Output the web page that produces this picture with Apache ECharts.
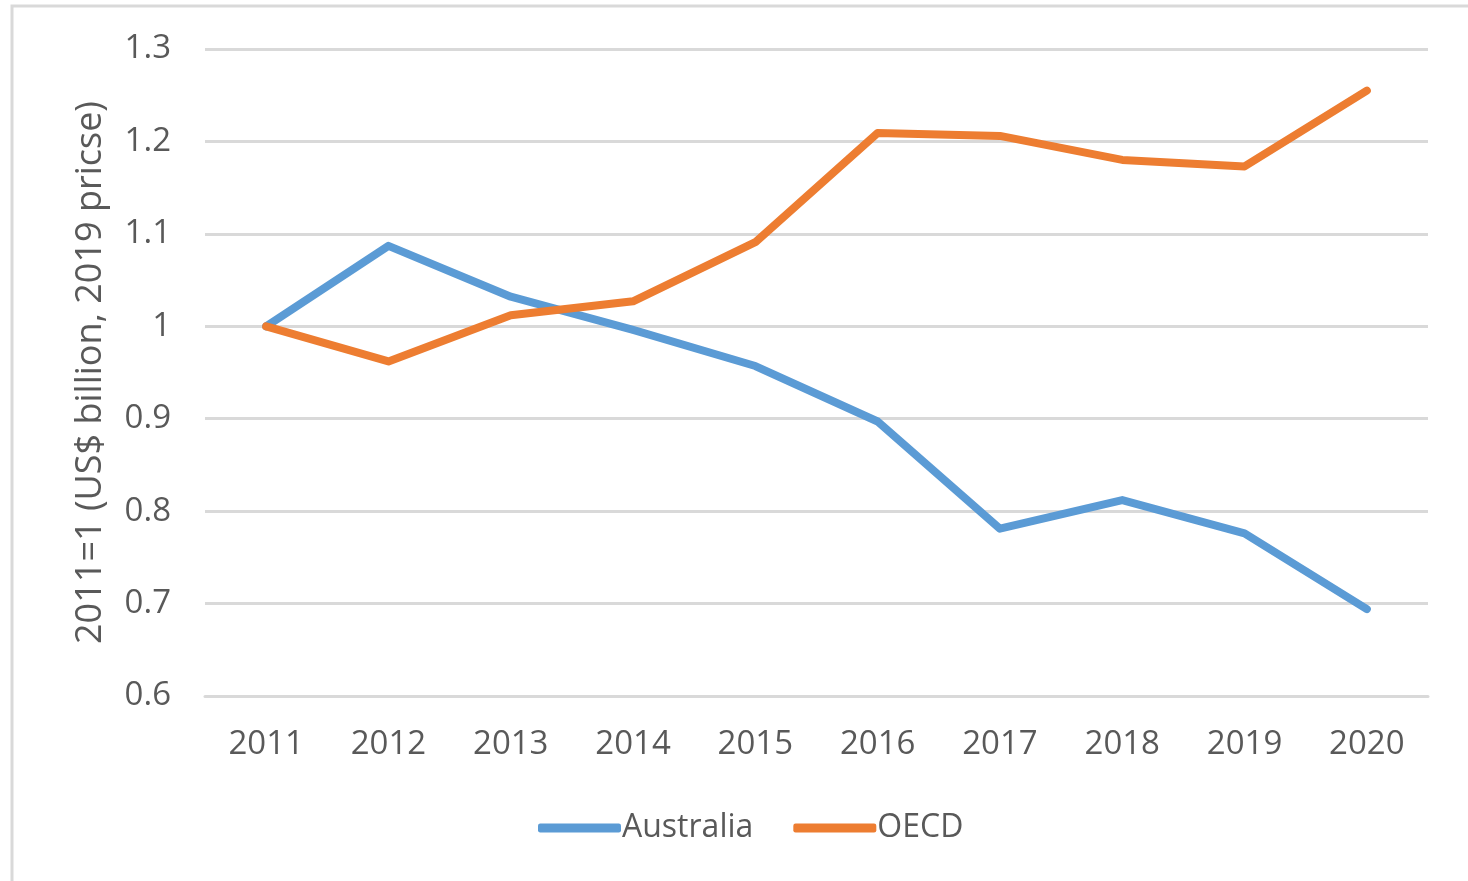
<!DOCTYPE html>
<html>
<head>
<meta charset="utf-8">
<script src="https://cdn.jsdelivr.net/npm/echarts@6/dist/echarts.min.js"></script>
<style>html,body{margin:0;padding:0;background:#fff}#c{width:1468px;height:881px}</style>
</head>
<body>
<div id="c"></div>
<script>
const years = ['2011','2012','2013','2014','2015','2016','2017','2018','2019','2020'];
const australia = [1.0, 1.087, 1.032, 0.996, 0.957, 0.897, 0.781, 0.812, 0.776, 0.694];
const oecd = [1.0, 0.962, 1.012, 1.027, 1.091, 1.209, 1.206, 1.180, 1.173, 1.255];
const yTitle = '2011=1 (US$ billion, 2019 pricse)';

const FONT = 'Open Sans';
const TXT = '#595959';
const chart = echarts.init(document.getElementById('c'), null, {renderer: 'canvas'});
chart.setOption({
  animation: false,
  backgroundColor: '#fff',
  textStyle: {fontFamily: FONT},
  graphic: [{
    type: 'rect', silent: true, z: -1,
    shape: {x: 12, y: 6, width: 1600, height: 1000},
    style: {fill: 'none', stroke: '#d9d9d9', lineWidth: 3}
  }],
  grid: {left: 205, right: 40, top: 49, bottom: 185},
  legend: {
    bottom: 32, left: 533,
    itemWidth: 83, itemHeight: 9, itemGap: 40,
    icon: 'roundRect',
    textStyle: {fontFamily: FONT, fontSize: 32, color: TXT, padding: [0, 0, 0, -4]},
    data: ['Australia', 'OECD']
  },
  xAxis: {
    type: 'category', data: years, boundaryGap: true,
    axisLine: {show: true, lineStyle: {color: '#d9d9d9', width: 3}},
    axisTick: {show: false},
    axisLabel: {fontFamily: FONT, fontSize: 33, color: TXT, margin: 32}
  },
  yAxis: {
    type: 'value', min: 0.6, max: 1.3, interval: 0.1,
    name: yTitle, nameLocation: 'middle', nameGap: 96, nameRotate: 90,
    nameTextStyle: {fontFamily: FONT, fontSize: 36, color: TXT},
    axisLine: {show: false}, axisTick: {show: false},
    splitLine: {lineStyle: {color: '#d9d9d9', width: 3}},
    axisLabel: {fontFamily: FONT, fontSize: 33, color: TXT, margin: 34,
      formatter: v => String(Math.round(v * 10) / 10)}
  },
  series: [
    {name: 'Australia', type: 'line', data: australia, symbol: 'none',
     lineStyle: {color: '#5b9bd5', width: 8, cap: 'round', join: 'round'}, itemStyle: {color: '#5b9bd5'}},
    {name: 'OECD', type: 'line', data: oecd, symbol: 'none',
     lineStyle: {color: '#ed7d31', width: 8, cap: 'round', join: 'round'}, itemStyle: {color: '#ed7d31'}}
  ]
});
</script>
</body>
</html>
